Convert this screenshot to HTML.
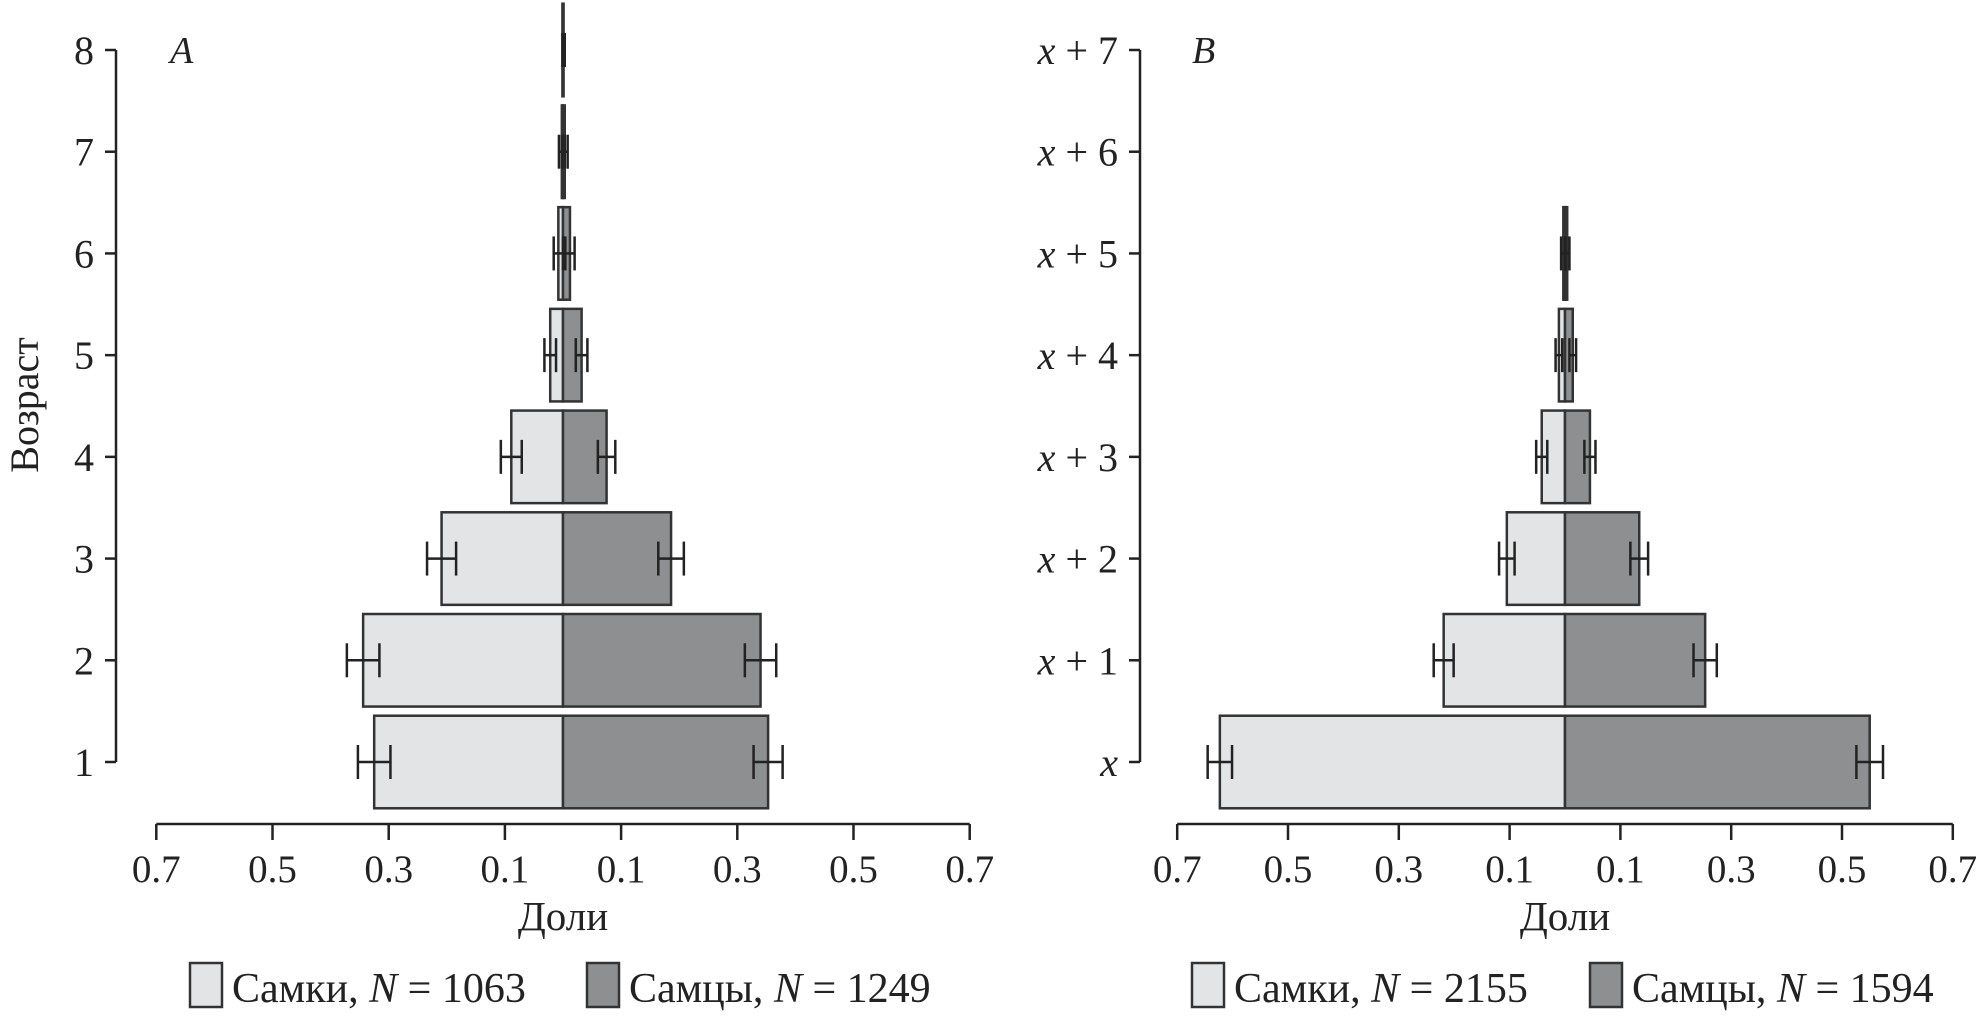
<!DOCTYPE html>
<html><head><meta charset="utf-8">
<style>
html,body{margin:0;padding:0;background:#fff;}
svg{display:block;font-family:"Liberation Serif",serif;}
</style></head>
<body>
<svg id="chart" width="1982" height="1017" viewBox="0 0 1982 1017" xmlns="http://www.w3.org/2000/svg"></svg>
<script>
// Panel A data
const catsA = ["1","2","3","4","5","6","7","8"];
const femA = [0.325,0.344,0.209,0.089,0.022,0.008,0.002,0.001];
const maleA = [0.353,0.340,0.186,0.075,0.032,0.012,0.003,0.001];
const errFA = [0.028,0.028,0.025,0.018,0.010,0.008,0.005,0.0];
const errMA = [0.025,0.027,0.022,0.015,0.010,0.008,0.005,0.002];
// Panel B data
const catsB = ["x","x + 1","x + 2","x + 3","x + 4","x + 5","x + 6","x + 7"];
const femB = [0.623,0.219,0.105,0.042,0.011,0.003,0,0];
const maleB = [0.550,0.253,0.134,0.045,0.014,0.004,0,0];
const errFB = [0.022,0.018,0.014,0.010,0.006,0.004,0,0];
const errMB = [0.024,0.021,0.016,0.010,0.006,0.004,0,0];
const xTickVals = [-0.7,-0.5,-0.3,-0.1,0.1,0.3,0.5,0.7];
const xTickLabels = ["0.7","0.5","0.3","0.1","0.1","0.3","0.5","0.7"];
const legendA = ["Самки, ","N"," = 1063","Самцы, ","N"," = 1249"];
const legendB = ["Самки, ","N"," = 2155","Самцы, ","N"," = 1594"];

const svg = document.getElementById('chart');
const NS = 'http://www.w3.org/2000/svg';
function mk(tag, attrs, parent){
  const e = document.createElementNS(NS, tag);
  for (const k in attrs) e.setAttribute(k, attrs[k]);
  (parent||svg).appendChild(e);
  return e;
}

function panel(p){
  const g = mk('g', {});
  
  
  const xS = v => p.cx + v * p.unit;
  const yS = i => p.y0 + (p.y1 - p.y0) * i / 7;
  const half = Math.abs(p.y1 - p.y0) / 7 * 0.455;
  const ya = mk('line', {x1:p.yx, y1:yS(7), x2:p.yx, y2:yS(0), stroke:'#222','stroke-width':2.5}, g);
  
  
  p.cats.forEach((c,i)=>{
    mk('line',{x1:p.yx-11,y1:yS(i),x2:p.yx,y2:yS(i),stroke:'#222','stroke-width':2.5},g);
    const t = mk('text',{x:p.yx-22,y:yS(i)+14,'font-size':40,'text-anchor':'end',fill:'#222'},g);
    if (p.italicX) {
      const parts = c.split('x');
      const s1 = mk('tspan',{'font-style':'italic'},t); s1.textContent='x';
      if (parts[1]) { const s2 = mk('tspan',{},t); s2.textContent = parts[1]; }
    } else t.textContent = c;
    
    
  });
  const xa = mk('line',{x1:xS(-0.7),y1:p.xy,x2:xS(0.7),y2:p.xy,stroke:'#222','stroke-width':2.5},g);
  
  
  xTickVals.forEach((v,i)=>{
    mk('line',{x1:xS(v),y1:p.xy,x2:xS(v),y2:p.xy+16,stroke:'#222','stroke-width':2.5},g);
    const t = mk('text',{x:xS(v),y:p.xy+58,'font-size':39,'text-anchor':'middle',fill:'#222'},g);
    t.textContent = xTickLabels[i];
    
    
  });
  const xt = mk('text',{x:p.cx,y:p.xy+106,'font-size':41,'text-anchor':'middle',fill:'#222'},g);
  xt.textContent = 'Доли';
  
  
  p.fem.forEach((v,i)=>{
    if (v<=0) return;
    const r = mk('rect',{x:xS(-v),y:yS(i)-half,width:xS(0)-xS(-v),height:2*half,fill:'#e3e4e6',stroke:'#333','stroke-width':2.5},g);
    
    
  });
  p.male.forEach((v,i)=>{
    if (v<=0) return;
    const r = mk('rect',{x:xS(0),y:yS(i)-half,width:xS(v)-xS(0),height:2*half,fill:'#8e8f91',stroke:'#333','stroke-width':2.5},g);
    
    
  });
  const eb = (v,e,sgn,i,nm)=>{
    if (v<=0 || e<=0) return;
    const a = xS(sgn*(v-e)), b = xS(sgn*(v+e)), y = yS(i);
    const eg = mk('g',{stroke:'#222','stroke-width':2.5},g);
    
    
    mk('line',{x1:a,y1:y,x2:b,y2:y},eg);
    mk('line',{x1:a,y1:y-17,x2:a,y2:y+17},eg);
    mk('line',{x1:b,y1:y-17,x2:b,y2:y+17},eg);
  };
  p.fem.forEach((v,i)=>eb(v,p.errF[i],-1,i,'error-bar-female'));
  p.male.forEach((v,i)=>eb(v,p.errM[i],1,i,'error-bar-male'));
  const pl = mk('text',{x:p.lx,y:63,'font-size':38,'font-style':'italic',fill:'#222'},g);
  pl.textContent = p.letter;
  
  
  const L = p.leg;
  [[p.lb1,'#e3e4e6',0],[p.lb2,'#8e8f91',3]].forEach(([bx,col,o],k)=>{
    const lg = mk('g',{},g);
    
    
    mk('rect',{x:bx,y:963,width:32,height:44,fill:col,stroke:'#333','stroke-width':2.5},lg);
    const t = mk('text',{x:bx+42,y:1002,'font-size':42,fill:'#222'},lg);
    const a = mk('tspan',{},t); a.textContent = L[o];
    const b = mk('tspan',{'font-style':'italic'},t); b.textContent = L[o+1];
    const c = mk('tspan',{},t); c.textContent = L[o+2];
  });
}

panel({name:'panel-a',cats:catsA,fem:femA,male:maleA,errF:errFA,errM:errMA,
  cx:563,unit:581,yx:116,y0:762,y1:50,xy:824,lx:170,letter:'A',leg:legendA,lb1:190,lb2:587,italicX:false});
panel({name:'panel-b',cats:catsB,fem:femB,male:maleB,errF:errFB,errM:errMB,
  cx:1565,unit:554,yx:1140,y0:762,y1:50,xy:824,lx:1192,letter:'B',leg:legendB,lb1:1192,lb2:1590,italicX:true});

const yt = mk('text',{x:0,y:0,'font-size':40,'text-anchor':'middle',fill:'#222',transform:'translate(38,405) rotate(-90)'});
yt.textContent = 'Возраст';


</script>
</body></html>
